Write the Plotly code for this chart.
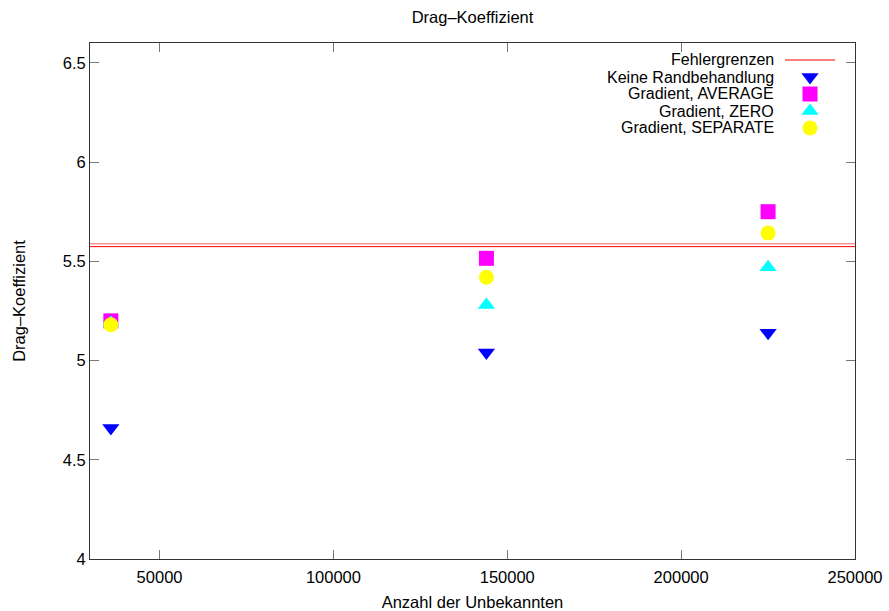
import plotly.graph_objects as go

# ---- data ----
unknowns = [36000, 144000, 225000]
keine_rand = [4.66, 5.04, 5.14]
grad_average = [5.20, 5.515, 5.75]
grad_zero = [5.19, 5.28, 5.47]
grad_separate = [5.18, 5.42, 5.643]
fehler_x = [30000, 250000]
fehler_lo = [5.574, 5.574]
fehler_hi = [5.588, 5.588]

legend_labels = ["Fehlergrenzen", "Keine Randbehandlung", "Gradient, AVERAGE",
                 "Gradient, ZERO", "Gradient, SEPARATE"]

FONT = "Liberation Sans, Arial, Helvetica, sans-serif"
FS = 16.5
LFS = 16

fig = go.Figure()
fig.add_trace(go.Scatter(x=fehler_x, y=fehler_lo, mode="lines",
                         line=dict(color="#ff0000", width=1), showlegend=False))
fig.add_trace(go.Scatter(x=fehler_x, y=fehler_hi, mode="lines",
                         line=dict(color="#ff6060", width=1), showlegend=False))
fig.add_trace(go.Scatter(x=unknowns, y=keine_rand, mode="markers",
                         marker=dict(symbol="triangle-down", size=15, color="#0000ff"),
                         showlegend=False))
fig.add_trace(go.Scatter(x=unknowns, y=grad_average, mode="markers",
                         marker=dict(symbol="square", size=15, color="#ff00ff"),
                         showlegend=False))
fig.add_trace(go.Scatter(x=unknowns, y=grad_zero, mode="markers",
                         marker=dict(symbol="triangle-up", size=15, color="#00ffff"),
                         showlegend=False))
fig.add_trace(go.Scatter(x=unknowns, y=grad_separate, mode="markers",
                         marker=dict(symbol="circle", size=15, color="#ffff00"),
                         showlegend=False))

# ---- gnuplot-style legend (text right, sample on the right) ----
L, R, T, B = 90, 34, 43, 52
W, H = 889 - L - R, 611 - T - B
def px(x): return (x - L) / W
def py(y): return (611 - B - y) / H

rows = [60, 77, 94, 111, 128]
text_right = 775
sample_x = 810
for lab, ry in zip(legend_labels, rows):
    fig.add_annotation(xref="paper", yref="paper", x=px(text_right), y=py(ry),
                       xanchor="right", yanchor="middle", text=lab, showarrow=False,
                       borderpad=0,
                       font=dict(family=FONT, size=LFS, color="black"))
fig.add_trace(go.Scatter(x=[px(785), px(835)], y=[py(rows[0])] * 2, mode="lines",
                         line=dict(color="#ff0000", width=1), xaxis="x2", yaxis="y2",
                         showlegend=False, hoverinfo="skip"))
symbols = ["triangle-down", "square", "triangle-up", "circle"]
colors = ["#0000ff", "#ff00ff", "#00ffff", "#ffff00"]
fig.add_trace(go.Scatter(x=[px(sample_x)] * 4, y=[py(r) for r in rows[1:]], mode="markers",
                         marker=dict(symbol=symbols, size=15, color=colors),
                         xaxis="x2", yaxis="y2", showlegend=False, hoverinfo="skip"))

axis_common = dict(showgrid=False, zeroline=False, showline=True, linecolor="#333333",
                   linewidth=1, mirror="allticks", ticks="inside", ticklen=9,
                   tickcolor="#777777", tickwidth=1, automargin=False,
                   tickfont=dict(family=FONT, size=FS, color="black"))

fig.update_layout(
    width=889, height=611,
    margin=dict(l=L, r=R, t=T, b=B),
    paper_bgcolor="white", plot_bgcolor="white",
    showlegend=False,
    title=dict(text="Drag–Koeffizient", x=(L + W / 2) / 889, xanchor="center",
               y=1 - 17 / 611, yanchor="middle", yref="container",
               font=dict(family=FONT, size=FS, color="black")),
    xaxis=dict(range=[30000, 250000], tickvals=[50000, 100000, 150000, 200000, 250000],
               ticktext=["50000", "100000", "150000", "200000", "250000"],
               ticklabelstandoff=3,
               title=dict(text="Anzahl der Unbekannten", standoff=16,
                          font=dict(family=FONT, size=FS, color="black")),
               **axis_common),
    yaxis=dict(range=[4, 6.6], tickvals=[4, 4.5, 5, 5.5, 6, 6.5],
               ticktext=["4", "4.5", "5", "5.5", "6", "6.5"],
               title=dict(text="Drag–Koeffizient", standoff=32,
                          font=dict(family=FONT, size=FS, color="black")),
               **axis_common),
    xaxis2=dict(range=[0, 1], overlaying="x", visible=False),
    yaxis2=dict(range=[0, 1], overlaying="y", visible=False),
)

fig.write_html("out.html")
